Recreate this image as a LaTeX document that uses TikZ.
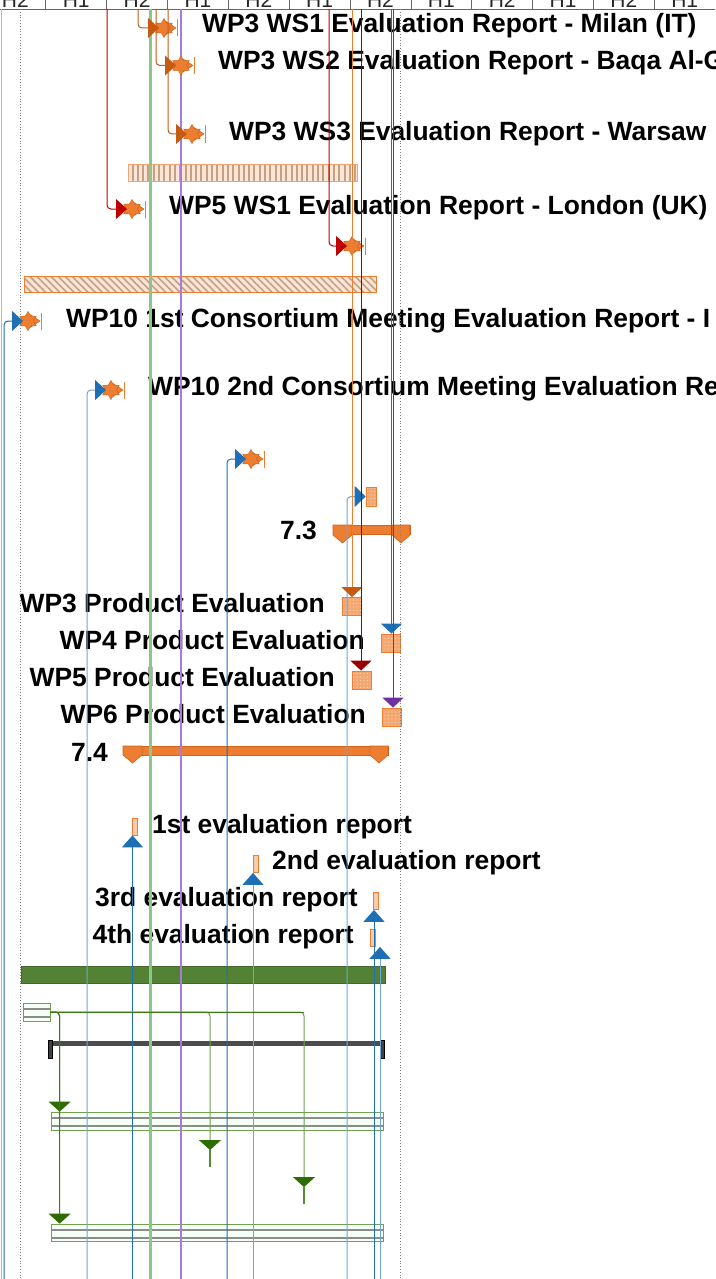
\documentclass[tikz,border=0pt]{standalone}
\usepackage{fontspec}
\setmainfont{Liberation Sans}
\usetikzlibrary{arrows.meta,shapes.geometric,patterns.meta,calc}
\definecolor{msorange}{HTML}{ED7D31}
\definecolor{msdark}{HTML}{D0641A}
\definecolor{wpthree}{HTML}{C55A11}
\definecolor{wpred}{HTML}{C00000}
\definecolor{wpdred}{HTML}{990000}
\definecolor{wpblue}{HTML}{1F6FB5}
\definecolor{wplblue}{HTML}{6FA6D8}
\definecolor{wppurple}{HTML}{7030A0}
\definecolor{lpurple}{HTML}{A77BDB}
\definecolor{lgreen}{HTML}{8CC68A}
\definecolor{gbar}{HTML}{548235}
\definecolor{gdark}{HTML}{2E6B00}
\definecolor{gline}{HTML}{3C7A12}
\definecolor{glight}{HTML}{70A050}
\definecolor{stripefill}{HTML}{FBE5D6}
\definecolor{stripeline}{HTML}{C4A186}
\definecolor{boxfill}{HTML}{F3A771}
\definecolor{boxdots}{HTML}{FAD7BD}
\definecolor{smallfill}{HTML}{F8CBAD}
\newcommand\milestone[3]{%
  \fill[msorange,draw=msdark,line width=0.5pt] (#2+17,#3-6.5) -- (#2+27,#3) -- (#2+17,#3+6.5) -- cycle;
  \node[msstar] (#1) at (#2+15,#3) {};
  \draw[msorange,line width=1.2pt] (#2+28.5,#3-8.5) -- (#2+28.5,#3+8.5);
}
\newcommand\greenbar[5]{%
  \node[gbox,minimum width=#4pt,minimum height=#5pt] (#1) at (#2,#3) {};
  \draw[line width=2pt,black!45] ($(#1.west)+(0.5,-3)$) -- ($(#1.east)+(-0.5,-3)$);
  \draw[line width=2pt,black!45] ($(#1.west)+(0.5,5)$) -- ($(#1.east)+(-0.5,5)$);
}
\begin{document}
\begin{tikzpicture}[x=1pt,y=-1pt,
  lbl/.style={font=\fontsize{26.4}{30}\selectfont\bfseries, inner sep=0pt, text=black},
  hdrtext/.style={font=\fontsize{21}{24}\selectfont, inner sep=0pt, anchor=base, text=black!85},
  hdr/.style={draw=black!60, line width=0.8pt},
  msstar/.style={star, star points=6, star point ratio=1.73, minimum size=19pt, inner sep=0pt, fill=msorange, draw=msdark, line width=0.5pt},
  conn/.style={rounded corners=4pt, line width=1pt},
  tipR/.style={-{Triangle[length=11pt,width=20pt]}},
  tipD/.style={-{Triangle[length=10pt,width=21pt]}},
  tipU/.style={-{Triangle[length=12pt,width=21pt]}},
  tipG/.style={-{Triangle[length=10pt,width=22pt,color=gdark]}},
  pbox/.style={draw=msorange, line width=0.8pt, preaction={fill=boxfill}, pattern={Dots[distance=3.5pt,radius=0.6pt]}, pattern color=boxdots, inner sep=0pt},
  ebox/.style={draw=msorange, line width=0.8pt, fill=smallfill, minimum width=5pt, minimum height=17pt, inner sep=0pt},
  gbox/.style={draw=glight, line width=0.8pt, fill=green!4, inner sep=0pt},
  sumshape/.style={fill=msorange, draw=msdark, line width=0.6pt},
  dotline/.style={draw=black!50, dotted, line width=0.8pt}
]
\useasboundingbox (0,0) rectangle (715,1279);
\clip (0,0) rectangle (715,1279);
\fill[white] (0,0) rectangle (715,1279);

% ---- header
\foreach \i in {0,...,10} \draw[hdr] ({45.8+60.85*\i},0) -- ({45.8+60.85*\i},9);
\draw[hdr] (0,9) -- (715,9);
\foreach \t [count=\i from 0] in {H2,H1,H2,H1,H2,H1,H2,H1,H2,H1,H2,H1}
  \node[hdrtext] (h\i) at ({15.4+60.85*\i},8) {\t};

% ---- labels
\node[lbl,anchor=base west] (l1) at (202,33) {WP3 WS1 Evaluation Report - Milan (IT)};
\node[lbl,anchor=base west] (l2) at (218,70) {WP3 WS2 Evaluation Report - Baqa Al-G};
\node[lbl,anchor=base west] (l3) at (229,140) {WP3 WS3 Evaluation Report - Warsaw};
\node[lbl,anchor=base west] (l5) at (169,214) {WP5 WS1 Evaluation Report - London (UK)};
\node[lbl,anchor=base west] (l8) at (66,327) {WP10 1st Consortium Meeting Evaluation Report - I};
\node[lbl,anchor=base west] (l9) at (148,395) {WP10 2nd Consortium Meeting Evaluation Re};
\node[lbl,anchor=base east] (l73) at (317,539) {7.3};
\node[lbl,anchor=base east] (lp3) at (325,612) {WP3 Product Evaluation};
\node[lbl,anchor=base east] (lp4) at (365,649) {WP4 Product Evaluation};
\node[lbl,anchor=base east] (lp5) at (335,686) {WP5 Product Evaluation};
\node[lbl,anchor=base east] (lp6) at (366,723) {WP6 Product Evaluation};
\node[lbl,anchor=base east] (l74) at (108,761) {7.4};
\node[lbl,anchor=base west] (le1) at (152,833) {1st evaluation report};
\node[lbl,anchor=base west] (le2) at (272,869) {2nd evaluation report};
\node[lbl,anchor=base east] (le3) at (358,906) {3rd evaluation report};
\node[lbl,anchor=base east] (le4) at (354,943) {4th evaluation report};

% ---- bars
\node[draw=msorange!70, line width=0.8pt, preaction={fill=stripefill}, pattern={Lines[angle=90,distance=5.3pt,line width=2pt]}, pattern color=stripeline, minimum width=229pt, minimum height=17pt, inner sep=0pt] (hb1) at (242.5,172.5) {};
\node[draw=msorange, line width=0.6pt, preaction={fill=stripefill}, pattern={Lines[angle=-45,distance=5pt,line width=1.6pt]}, pattern color=stripeline, minimum width=352pt, minimum height=16pt, inner sep=0pt] (hb2) at (200,284) {};

\fill[sumshape] (333,525) rectangle (410,534);
\filldraw[sumshape] (333,525) -- (352,525) -- (352,535) -- (342.5,543) -- (333,535) -- cycle;
\filldraw[sumshape] (392,525) -- (410,525) -- (410,535) -- (401,543) -- (392,535) -- cycle;
\fill[sumshape] (123,746) rectangle (388,755);
\filldraw[sumshape] (123,746) -- (142,746) -- (142,755) -- (132.5,763) -- (123,755) -- cycle;
\filldraw[sumshape] (370,746) -- (388,746) -- (388,755) -- (379,763) -- (370,755) -- cycle;

\node[fill=gbar, draw=gbar!80!black, line width=0.8pt, minimum width=364pt, minimum height=17pt, inner sep=0pt] (gb0) at (203,974.5) {};
\greenbar{gsm}{36.5}{1012}{27}{18}
\fill[black!70] (50,1041) rectangle (383,1046);
\filldraw[fill=black!75,draw=black] (48,1040) rectangle (52,1058);
\filldraw[fill=black!75,draw=black] (380,1040) rectangle (384,1058);
\greenbar{gb1}{217}{1121}{332}{18}
\greenbar{gb2}{217}{1232.5}{332}{17}

% ---- boxes
\node[pbox, minimum width=10pt, minimum height=19pt] (r0) at (371,496.5) {};
\node[pbox, minimum width=19pt, minimum height=18pt] (p3) at (351.5,606.5) {};
\node[pbox, minimum width=19pt, minimum height=18pt] (p4) at (391,643) {};
\node[pbox, minimum width=19pt, minimum height=18pt] (p5) at (361.5,680) {};
\node[pbox, minimum width=19pt, minimum height=18pt] (p6) at (391.5,717) {};
\node[ebox] (r1) at (134.5,826.5) {};
\node[ebox] (r2) at (255.5,864) {};
\node[ebox] (r3) at (376,901) {};
\node[ebox] (r4) at (372.5,938) {};

% ---- full-height lines
\draw[wplblue!70, line width=1pt] (1,9) -- (1,1279);
\draw[dotline] (20,9) -- (20,1279);
\draw[dotline] (400,9) -- (400,1279);
\draw[lgreen, line width=3pt] (150,9) -- (150,1279);
\draw[lpurple, line width=1.5pt] (181,9) -- (181,1279);

% ---- milestones
\milestone{m1}{149}{28}
\milestone{m2}{166}{65.5}
\milestone{m3}{177}{134}
\milestone{m5}{117}{209}
\milestone{m6}{337}{246}
\milestone{m8}{13}{321}
\milestone{m9}{96}{390}
\milestone{m10}{236}{459}

% ---- coordinates for connector ends
\coordinate (tG) at (138,9);
\coordinate (tI) at (156,9);
\coordinate (tJ) at (168,9);
\coordinate (tE) at (107,9);
\coordinate (tN) at (329,9);
\coordinate (tP) at (352,9);
\coordinate (tQ) at (361,9);
\coordinate (tT) at (391.5,9);
\coordinate (tU) at (393,9);
\coordinate (bB) at (4,1279);
\coordinate (bD) at (87,1279);
\coordinate (bL) at (227,1279);
\coordinate (bO) at (347,1279);
\coordinate (bF) at (132.5,1279);
\coordinate (bM) at (253,1279);
\coordinate (bR) at (374,1279);
\coordinate (bS) at (380,1279);

% ---- connectors to milestones
\draw[conn, wpthree, tipR] (tG) |- ($(m1.center)+(-5,0)$);
\draw[conn, wpthree, tipR] (tI) |- ($(m2.center)+(-5,0)$);
\draw[conn, wpthree, tipR] (tJ) |- ($(m3.center)+(-5,0)$);
\draw[conn, wpred, tipR] (tE) |- ($(m5.center)+(-5,0)$);
\draw[conn, wpred, tipR] (tN) |- ($(m6.center)+(-5,0)$);
\draw[conn, wpblue, tipR] (bB) |- ($(m8.center)+(-5,0)$);
\draw[conn, wplblue, -{Triangle[length=11pt,width=20pt,color=wpblue]}] (bD) |- ($(m9.center)+(-5,0)$);
\draw[conn, wpblue, tipR] (bL) |- ($(m10.center)+(-5,0)$);
\draw[conn, wplblue, -{Triangle[length=11pt,width=21pt,color=wpblue]}] (bO) |- (r0.west);

% ---- connectors to product boxes
\draw[line width=1pt, msorange, -{Triangle[length=10pt,width=21pt,color=wpthree]}] (tP) -- (tP |- p3.north);
\draw[line width=1pt, wpblue, tipD] (tT) -- (tT |- p4.north);
\draw[line width=1pt, wpdred, tipD] (tQ) -- (tQ |- p5.north);
\draw[line width=1pt, wppurple, tipD] (tU) -- (tU |- p6.north);

% ---- connectors to evaluation reports
\draw[line width=1pt, wpblue, tipU] (bF) -- (bF |- r1.south);
\draw[line width=1pt, wplblue, -{Triangle[length=12pt,width=21pt,color=wpblue]}] (bM) -- (bM |- r2.south);
\draw[line width=1pt, wpblue, tipU] (bR) -- (bR |- r3.south);
\draw[line width=1pt, wplblue, -{Triangle[length=12pt,width=21pt,color=wpblue]}] (bS) -- (bS |- r4.south);

% ---- green connectors
\coordinate (k1) at (210,1150);
\coordinate (k2) at (304,1187);
\draw[gdark!80, line width=2pt] (k1) -- ++(0,17);
\draw[gdark!80, line width=2pt] (k2) -- ++(0,17);
\draw[conn, glight, tipG] (gsm.east) -| (k1);
\draw[conn, glight, tipG] (gsm.east) -| (k2);
\draw[conn, gline, tipG] (gsm.east) -| ($(gb1.north west)+(9,0)$);
\draw[conn, gline, tipG] (gsm.east) -| ($(gb2.north west)+(9,0)$);
\draw[gline, line width=1pt] (gsm.east) -- (k2 |- gsm.east);
\end{tikzpicture}
\end{document}
